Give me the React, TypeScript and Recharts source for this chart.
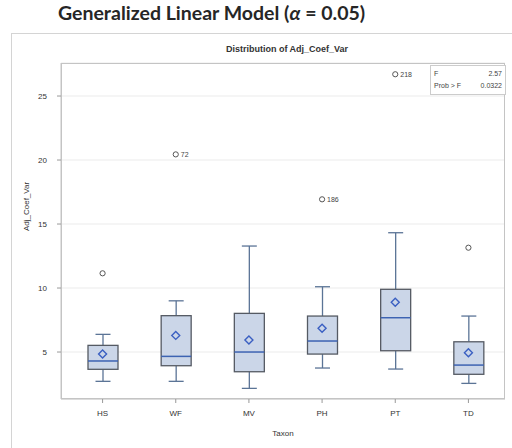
import React from 'react';
import { ComposedChart, Bar, Scatter, XAxis, YAxis, CartesianGrid } from 'recharts';

const categories = ['HS', 'WF', 'MV', 'PH', 'PT', 'TD'];
const whiskerLow = [2.71, 2.71, 2.16, 3.75, 3.67, 2.55];
const q1Values = [3.65, 3.93, 3.46, 4.84, 5.1, 3.26];
const medianValues = [4.3, 4.66, 5.0, 5.86, 7.68, 3.98];
const q3Values = [5.52, 7.84, 8.02, 7.81, 9.9, 5.8];
const whiskerHigh = [6.38, 9.0, 13.28, 10.1, 14.32, 7.81];
const meanValues = [4.84, 6.3, 5.94, 6.85, 8.88, 4.95];
const outlierValues: (number | null)[] = [11.15, 20.44, null, 16.93, 26.7, 13.15];
const outlierLabels = ['', '72', '', '186', '218', ''];
const yTicks = [5, 10, 15, 20, 25];

const data = categories.map((taxon, i) => ({
  taxon,
  range: [whiskerLow[i], whiskerHigh[i]],
  wl: whiskerLow[i],
  q1: q1Values[i],
  med: medianValues[i],
  q3: q3Values[i],
  wh: whiskerHigh[i],
  mean: meanValues[i],
  outlier: outlierValues[i],
  outlierLabel: outlierLabels[i],
}));

const BOX_FILL = '#cbd6e8';
const BOX_STROKE = '#555a63';
const WHISKER = '#5b7496';
const MEDIAN = '#3d63b2';
const MEAN = '#3a5fc2';

const BoxShape = (props: any) => {
  const { x, y, width, height, payload } = props;
  if (x == null || y == null) return null;
  const top = Math.min(y, y + height);
  const h = Math.abs(height);
  const { wl, wh, q1, q3, med } = payload;
  const ppu = h / (wh - wl);
  const py = (v: number) => top + (wh - v) * ppu;
  const cx = x + width / 2;
  const cap = width / 4;
  return (
    <g>
      <line x1={cx} x2={cx} y1={py(wh)} y2={py(q3)} stroke={WHISKER} strokeWidth={1.3} />
      <line x1={cx} x2={cx} y1={py(q1)} y2={py(wl)} stroke={WHISKER} strokeWidth={1.3} />
      <line x1={cx - cap} x2={cx + cap} y1={py(wh)} y2={py(wh)} stroke={WHISKER} strokeWidth={1.3} />
      <line x1={cx - cap} x2={cx + cap} y1={py(wl)} y2={py(wl)} stroke={WHISKER} strokeWidth={1.3} />
      <rect x={x} y={py(q3)} width={width} height={py(q1) - py(q3)} fill={BOX_FILL} stroke={BOX_STROKE} strokeWidth={1.3} />
      <line x1={x} x2={x + width} y1={py(med)} y2={py(med)} stroke={MEDIAN} strokeWidth={1.5} />
    </g>
  );
};

const MeanShape = (props: any) => {
  const { cx, cy } = props;
  if (cx == null || cy == null || isNaN(cy)) return null;
  const s = 4;
  return (
    <path
      d={`M${cx},${cy - s} L${cx + s},${cy} L${cx},${cy + s} L${cx - s},${cy} Z`}
      fill="none"
      stroke={MEAN}
      strokeWidth={1.4}
    />
  );
};

const OutlierShape = (props: any) => {
  const { cx, cy, payload } = props;
  if (cx == null || cy == null || isNaN(cy) || payload.outlier == null) return null;
  return (
    <g>
      <circle cx={cx} cy={cy} r={2.6} fill="none" stroke="#555" strokeWidth={1} />
      {payload.outlierLabel ? (
        <text x={cx + 5} y={cy + 2.5} fontSize={7} fill="#444" fontFamily="Liberation Sans, Arial, sans-serif">
          {payload.outlierLabel}
        </text>
      ) : null}
    </g>
  );
};

export default function App() {
  return (
    <div style={{ position: 'absolute', left: 0, top: 0, width: 512, height: 448, background: '#fff', overflow: 'hidden' }}>
      <div
        style={{
          position: 'absolute',
          left: 11,
          top: 33,
          width: 520,
          height: 430,
          border: '1px solid #d4d4d4',
        }}
      />
      <div
        style={{
          position: 'absolute',
          left: 58,
          top: 1,
          fontFamily: 'Lato, "Open Sans", sans-serif',
          fontWeight: 700,
          fontSize: 19.5,
          color: '#262626',
          whiteSpace: 'nowrap',
          letterSpacing: 0,
        }}
      >
        Generalized Linear Model (<i>α</i> = 0.05)
      </div>
      <div
        style={{
          position: 'absolute',
          left: 0,
          width: 574,
          top: 44,
          textAlign: 'center',
          fontFamily: '"Liberation Sans", Arial, sans-serif',
          fontWeight: 700,
          fontSize: 9,
          color: '#333',
        }}
      >
        Distribution of Adj_Coef_Var
      </div>
      <div style={{ position: 'absolute', left: 0, top: 0 }}>
        <ComposedChart
          width={512}
          height={448}
          data={data}
          margin={{ top: 63, right: 7, bottom: 19, left: 21 }}
          barSize={30}
        >
          <CartesianGrid vertical={false} stroke="#ebebeb" />
          <XAxis
            dataKey="taxon"
            padding={{ left: 5, right: 0 }}
            height={30}
            tickSize={4}
            tickMargin={7}
            tick={{ fontSize: 8, fill: '#333', fontFamily: 'Liberation Sans, Arial, sans-serif' }}
            axisLine={{ stroke: '#c4c4c4' }}
            tickLine={{ stroke: '#999' }}
            label={{
              value: 'Taxon',
              position: 'bottom',
              offset: 1,
              fontSize: 8,
              fill: '#333',
              fontFamily: 'Liberation Sans, Arial, sans-serif',
            }}
          />
          <YAxis
            type="number"
            domain={[1.33, 27.58]}
            allowDataOverflow
            ticks={yTicks}
            width={40}
            tickSize={4}
            tickMargin={10}
            tick={{ fontSize: 8, fill: '#333', fontFamily: 'Liberation Sans, Arial, sans-serif' }}
            axisLine={{ stroke: '#c4c4c4' }}
            tickLine={{ stroke: '#999' }}
            label={{
              value: 'Adj_Coef_Var',
              angle: -90,
              position: 'insideLeft',
              offset: 5,
              fontSize: 8,
              fill: '#333',
              fontFamily: 'Liberation Sans, Arial, sans-serif',
            }}
          />
          <Bar dataKey="range" shape={<BoxShape />} isAnimationActive={false} />
          <Scatter dataKey="mean" shape={<MeanShape />} isAnimationActive={false} />
          <Scatter dataKey="outlier" shape={<OutlierShape />} isAnimationActive={false} />
        </ComposedChart>
      </div>
      <div
        style={{
          position: 'absolute',
          left: 61,
          top: 63,
          width: 444,
          height: 336,
          boxSizing: 'border-box',
          border: '1px solid #c4c4c4',
          pointerEvents: 'none',
        }}
      />
      <div
        style={{
          position: 'absolute',
          left: 430,
          top: 65,
          width: 76,
          height: 30,
          boxSizing: 'border-box',
          border: '1px solid #cccccc',
          padding: '2px 3px',
          fontFamily: '"Liberation Sans", Arial, sans-serif',
          fontSize: 7,
          color: '#444',
          lineHeight: '12px',
          background: '#fff',
        }}
      >
        <div style={{ display: 'flex', justifyContent: 'space-between' }}>
          <span>F</span>
          <span>2.57</span>
        </div>
        <div style={{ display: 'flex', justifyContent: 'space-between' }}>
          <span>Prob &gt; F</span>
          <span>0.0322</span>
        </div>
      </div>
    </div>
  );
}
